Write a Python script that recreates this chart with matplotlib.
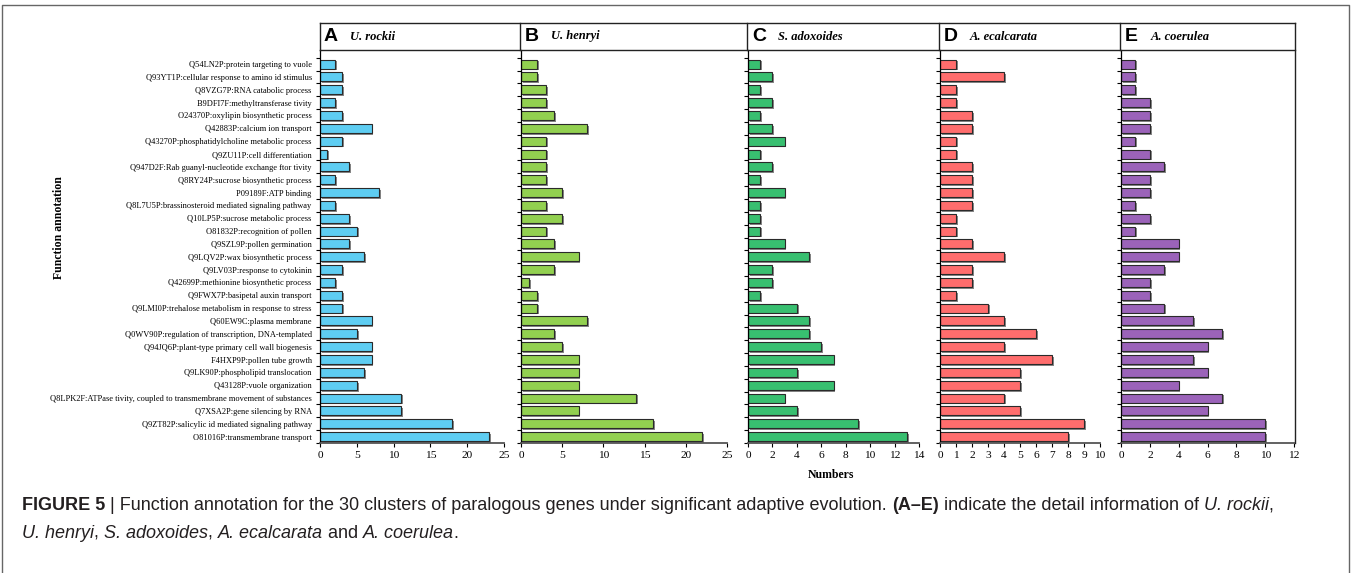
import numpy as np
import matplotlib
matplotlib.use('Agg')
import matplotlib.pyplot as plt
import matplotlib.patheffects as pe
from matplotlib.lines import Line2D

categories = [
    'Q54LN2P:protein targeting to vuole',
    'Q93YT1P:cellular response to amino id stimulus',
    'Q8VZG7P:RNA catabolic process',
    'B9DFI7F:methyltransferase tivity',
    'O24370P:oxylipin biosynthetic process',
    'Q42883P:calcium ion transport',
    'Q43270P:phosphatidylcholine metabolic process',
    'Q9ZU11P:cell differentiation',
    'Q947D2F:Rab guanyl-nucleotide exchange ftor tivity',
    'Q8RY24P:sucrose biosynthetic process',
    'P09189F:ATP binding',
    'Q8L7U5P:brassinosteroid mediated signaling pathway',
    'Q10LP5P:sucrose metabolic process',
    'O81832P:recognition of pollen',
    'Q9SZL9P:pollen germination',
    'Q9LQV2P:wax biosynthetic process',
    'Q9LV03P:response to cytokinin',
    'Q42699P:methionine biosynthetic process',
    'Q9FWX7P:basipetal auxin transport',
    'Q9LMI0P:trehalose metabolism in response to stress',
    'Q60EW9C:plasma membrane',
    'Q0WV90P:regulation of transcription, DNA-templated',
    'Q94JQ6P:plant-type primary cell wall biogenesis',
    'F4HXP9P:pollen tube growth',
    'Q9LK90P:phospholipid translocation',
    'Q43128P:vuole organization',
    'Q8LPK2F:ATPase tivity, coupled to transmembrane movement of substances',
    'Q7XSA2P:gene silencing by RNA',
    'Q9ZT82P:salicylic id mediated signaling pathway',
    'O81016P:transmembrane transport',
]

# counts, top to bottom
u_rockii = [2, 3, 3, 2, 3, 7, 3, 1, 4, 2, 8, 2, 4, 5, 4, 6, 3, 2, 3, 3, 7, 5, 7, 7, 6, 5, 11, 11, 18, 23]
u_henryi = [2, 2, 3, 3, 4, 8, 3, 3, 3, 3, 5, 3, 5, 3, 4, 7, 4, 1, 2, 2, 8, 4, 5, 7, 7, 7, 14, 7, 16, 22]
s_adoxoides = [1, 2, 1, 2, 1, 2, 3, 1, 2, 1, 3, 1, 1, 1, 3, 5, 2, 2, 1, 4, 5, 5, 6, 7, 4, 7, 3, 4, 9, 13]
a_ecalcarata = [1, 4, 1, 1, 2, 2, 1, 1, 2, 2, 2, 2, 1, 1, 2, 4, 2, 2, 1, 3, 4, 6, 4, 7, 5, 5, 4, 5, 9, 8]
a_coerulea = [1, 1, 1, 2, 2, 2, 1, 2, 3, 2, 2, 1, 2, 1, 4, 4, 3, 2, 2, 3, 5, 7, 6, 5, 6, 4, 7, 6, 10, 10]

panel_letters = ['A', 'B', 'C', 'D', 'E']
species = ['U. rockii', 'U. henryi', 'S. adoxoides', 'A. ecalcarata', 'A. coerulea']
series = [u_rockii, u_henryi, s_adoxoides, a_ecalcarata, a_coerulea]
colors = ['#5ECDF2', '#92D050', '#38BF70', '#FF6D6D', '#9B63B9']
xmax = [25, 25, 14, 10, 12]
xstep = [5, 5, 2, 1, 2]

W, H = 1354, 573
fig = plt.figure(figsize=(W / 100, H / 100), dpi=100)
serif = 'Liberation Serif'
sans = 'Liberation Sans'

# pixel layout of the panels: left edge, right edge
px_left = [320, 521, 748, 940, 1121]
px_right = [504, 727, 919, 1100, 1294]
y_bot, y_top, y_head = 443, 50, 23


def fx(px):
    return px / W


def fy(py):
    return 1 - py / H


n = len(categories)
pos = np.arange(n)
shadow = [pe.SimplePatchShadow(offset=(1.3, -1.3), shadow_rgbFace='#7a7a7a', alpha=0.9), pe.Normal()]

for k in range(5):
    ax = fig.add_axes([fx(px_left[k]), fy(y_bot), fx(px_right[k] - px_left[k]), fy(y_top) - fy(y_bot)])
    bars = ax.barh(pos, series[k], height=0.7, color=colors[k], edgecolor='#2a2a2a', linewidth=0.8)
    for b in bars:
        b.set_path_effects(shadow)
    ax.set_xlim(0, xmax[k])
    ax.set_ylim(29.5, -1.1)
    ax.set_xticks(np.arange(0, xmax[k] + 0.01, xstep[k]))
    ax.set_xticklabels([str(v) for v in range(0, xmax[k] + 1, xstep[k])],
                       fontfamily=serif, fontsize=8.2)
    ax.tick_params(axis='x', direction='out', length=3, width=0.8, pad=3)
    ax.set_yticks(list(pos - 0.5) + [29.5])
    ax.set_yticklabels([])
    ax.tick_params(axis='y', direction='out', length=3, width=0.8)
    if k == 0:
        ax.set_yticks(pos, minor=True)
        ax.set_yticklabels(categories, minor=True, fontfamily=serif, fontsize=6.0)
        ax.tick_params(axis='y', which='minor', length=0, pad=6)
    for s in ['top', 'right']:
        ax.spines[s].set_visible(False)
    ax.spines['left'].set_linewidth(0.9)
    ax.spines['bottom'].set_linewidth(1.3)
    ax.spines['bottom'].set_color('#555555')
    ax.patch.set_alpha(0)

# header row and outer box of the panels
box_l, box_r = 320, 1295
fig.add_artist(Line2D([fx(box_l), fx(box_r)], [fy(y_head)] * 2, color='#222222', lw=1.0))
fig.add_artist(Line2D([fx(box_l), fx(box_r)], [fy(y_top)] * 2, color='#222222', lw=1.0))
fig.add_artist(Line2D([fx(box_l)] * 2, [fy(y_head), fy(y_top)], color='#222222', lw=1.0))
fig.add_artist(Line2D([fx(box_r)] * 2, [fy(y_head), fy(y_bot)], color='#222222', lw=1.0))
for k in range(1, 5):
    fig.add_artist(Line2D([fx(px_left[k] - 1)] * 2, [fy(y_head), fy(y_top)], color='#222222', lw=1.0))

y_mid = (fy(y_head) + fy(y_top)) / 2
for k in range(5):
    fig.text(fx(px_left[k] + 4), y_mid, panel_letters[k], fontfamily=sans, fontweight='bold',
             fontsize=14, va='center', ha='left')
    fig.text(fx(px_left[k] + 30), y_mid, species[k], fontfamily=serif, fontweight='bold',
             fontstyle='italic', fontsize=9, va='center', ha='left')

fig.text(fx(59), fy(228), 'Function annotation', rotation=90, fontfamily=serif,
         fontweight='bold', fontsize=8.5, ha='center', va='center')
fig.text(fx(831), fy(475), 'Numbers', fontfamily=serif, fontweight='bold', fontsize=8.5,
         ha='center', va='center')

# outer frame
fig.add_artist(Line2D([fx(2), fx(2), fx(1349), fx(1349)], [0, fy(5), fy(5), 0],
                      color='#666666', lw=1.0))

# caption with mixed styles
renderer = fig.canvas.get_renderer()


def draw_line(pieces, x0, y0, size=13):
    x = x0
    for txt, w, st in pieces:
        t = fig.text(x, y0, txt, fontfamily=sans, fontweight=w, fontstyle=st,
                     fontsize=size, color='#231F20', va='center', ha='left')
        bb = t.get_window_extent(renderer)
        x += bb.width / W


line1 = [
    ('FIGURE 5', 'bold', 'normal'),
    (' | Function annotation for the 30 clusters of paralogous genes under significant adaptive evolution. ',
     'normal', 'normal'),
    ('(A\u2013E)', 'bold', 'normal'),
    (' indicate the detail information of ', 'normal', 'normal'),
    ('U. rockii', 'normal', 'italic'),
    (',', 'normal', 'normal'),
]
line2 = [
    ('U. henryi', 'normal', 'italic'),
    (', ', 'normal', 'normal'),
    ('S. adoxoides', 'normal', 'italic'),
    (', ', 'normal', 'normal'),
    ('A. ecalcarata', 'normal', 'italic'),
    (' and ', 'normal', 'normal'),
    ('A. coerulea', 'normal', 'italic'),
    ('.', 'normal', 'normal'),
]
draw_line(line1, fx(22), fy(506))
draw_line(line2, fx(22), fy(533))

plt.savefig('out.png', dpi=100)
